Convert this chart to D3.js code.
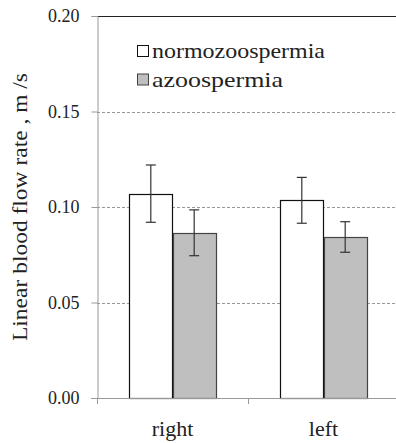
<!DOCTYPE html>
<html>
<head>
<meta charset="utf-8">
<script src="https://cdn.jsdelivr.net/npm/d3@7"></script>
<style>
  body { margin: 0; background: #fff; }
</style>
</head>
<body>
<div id="chart"></div>
<script>
// data
const categories = ["right", "left"];
const seriesNames = ["normozoospermia", "azoospermia"];
const normoMean = [0.107, 0.1035];
const normoErr = [0.015, 0.012];
const azooMean = [0.0865, 0.0843];
const azooErr = [0.012, 0.008];
const yTicks = [0, 0.05, 0.10, 0.15, 0.20];

const FONT = '"Liberation Serif"';
const W = 396, H = 443;
const margin = {top: 16, right: -3, bottom: 45, left: 97};
const width = W - margin.left - margin.right,
      height = H - margin.top - margin.bottom;

const svg = d3.select("#chart")
  .append("svg")
    .attr("width", W)
    .attr("height", H)
  .append("g")
    .attr("transform", `translate(${margin.left},${margin.top})`);

const x = d3.scaleBand()
  .domain(categories)
  .range([0, width]);

const x1 = d3.scaleBand()
  .domain(seriesNames)
  .range([0, x.bandwidth()])
  .paddingInner(0)
  .paddingOuter(0.74);

const y = d3.scaleLinear()
  .domain([0, 0.20])
  .range([height, 0]);

// gridlines
svg.append("g")
  .selectAll("line")
  .data(yTicks.filter(d => d > 0 && d < 0.20))
  .join("line")
    .attr("x1", 0).attr("x2", width)
    .attr("y1", d => Math.round(y(d)) + 0.5)
    .attr("y2", d => Math.round(y(d)) + 0.5)
    .attr("stroke", "#999")
    .attr("stroke-dasharray", "3,2");

// top border
svg.append("line")
  .attr("x1", 0).attr("x2", width)
  .attr("y1", 0.5).attr("y2", 0.5)
  .attr("stroke", "#222");

// y axis
const yAxis = svg.append("g")
  .attr("transform", "translate(0.5,0)")
  .call(d3.axisLeft(y).tickValues(yTicks).tickFormat(d3.format(".2f")).tickSizeOuter(0).tickSize(6).tickPadding(12));
yAxis.select(".domain").attr("stroke", "#999");
yAxis.selectAll(".tick line").attr("stroke", "#999");
yAxis.selectAll("text")
  .attr("fill", "#222")
  .attr("font-family", FONT)
  .attr("font-size", 18);

// bars
const rows = categories.map((c, i) => [
  {cat: c, key: seriesNames[0], v: normoMean[i], e: normoErr[i]},
  {cat: c, key: seriesNames[1], v: azooMean[i], e: azooErr[i]}
]);
const fills = {normozoospermia: "#ffffff", azoospermia: "#bfbfbf"};
const strokes = {normozoospermia: "#111", azoospermia: "#444"};

const groups = svg.append("g")
  .selectAll("g")
  .data(rows)
  .join("g")
    .attr("transform", d => `translate(${x(d[0].cat)},0)`);

groups.selectAll("rect")
  .data(d => d)
  .join("rect")
    .attr("x", d => Math.round(x1(d.key)) + 0.5)
    .attr("y", d => Math.round(y(d.v)) + 0.5)
    .attr("width", Math.round(x1.bandwidth()))
    .attr("height", d => height - Math.round(y(d.v)))
    .attr("fill", d => fills[d.key])
    .attr("stroke", d => strokes[d.key])
    .attr("stroke-width", 1.2);

// error bars
const eb = groups.selectAll("g.err")
  .data(d => d)
  .join("g")
    .attr("class", "err")
    .attr("stroke", "#333")
    .attr("stroke-width", 1.2);
eb.append("line")
  .attr("x1", d => x1(d.key) + x1.bandwidth() / 2)
  .attr("x2", d => x1(d.key) + x1.bandwidth() / 2)
  .attr("y1", d => y(d.v + d.e))
  .attr("y2", d => y(d.v - d.e));
[1, -1].forEach(s => {
  eb.append("line")
    .attr("x1", d => x1(d.key) + x1.bandwidth() / 2 - 5)
    .attr("x2", d => x1(d.key) + x1.bandwidth() / 2 + 5)
    .attr("y1", d => y(d.v + s * d.e))
    .attr("y2", d => y(d.v + s * d.e));
});

// x axis
svg.append("line")
  .attr("x1", -6).attr("x2", width)
  .attr("y1", height + 0.5).attr("y2", height + 0.5)
  .attr("stroke", "#999");
svg.append("g")
  .selectAll("line")
  .data(categories.slice(1))
  .join("line")
    .attr("x1", d => Math.round(x(d)) + 0.5)
    .attr("x2", d => Math.round(x(d)) + 0.5)
    .attr("y1", height).attr("y2", height + 6)
    .attr("stroke", "#999");
svg.append("line")
  .attr("x1", 0.5).attr("x2", 0.5)
  .attr("y1", height).attr("y2", height + 6)
  .attr("stroke", "#999");

svg.append("g")
  .selectAll("text")
  .data(categories)
  .join("text")
    .attr("x", d => x(d) + x.bandwidth() / 2)
    .attr("y", height + 38)
    .attr("text-anchor", "middle")
    .attr("fill", "#222")
    .attr("font-family", FONT)
    .attr("font-size", 22)
    .text(d => d);

// y label
svg.append("text")
  .attr("transform", `translate(-70,191) rotate(-90)`)
  .attr("text-anchor", "middle")
  .attr("fill", "#222")
  .attr("font-family", FONT)
  .attr("font-size", 21)
  .attr("textLength", 268)
  .attr("lengthAdjust", "spacingAndGlyphs")
  .text("Linear blood flow rate , m /s");

// legend
const legend = svg.append("g")
  .attr("transform", "translate(40,29)");
const legendWidths = [173, 131];
seriesNames.forEach((name, i) => {
  const g = legend.append("g").attr("transform", `translate(0,${i * 28.5})`);
  g.append("rect")
    .attr("x", 0.5).attr("y", 0.5)
    .attr("width", 11).attr("height", 11)
    .attr("fill", fills[name])
    .attr("stroke", strokes[name]);
  g.append("text")
    .attr("x", 15).attr("y", 13)
    .attr("fill", "#222")
    .attr("font-family", FONT)
    .attr("font-size", 22)
    .attr("textLength", legendWidths[i])
    .attr("lengthAdjust", "spacingAndGlyphs")
    .text(name);
});
</script>
</body>
</html>
